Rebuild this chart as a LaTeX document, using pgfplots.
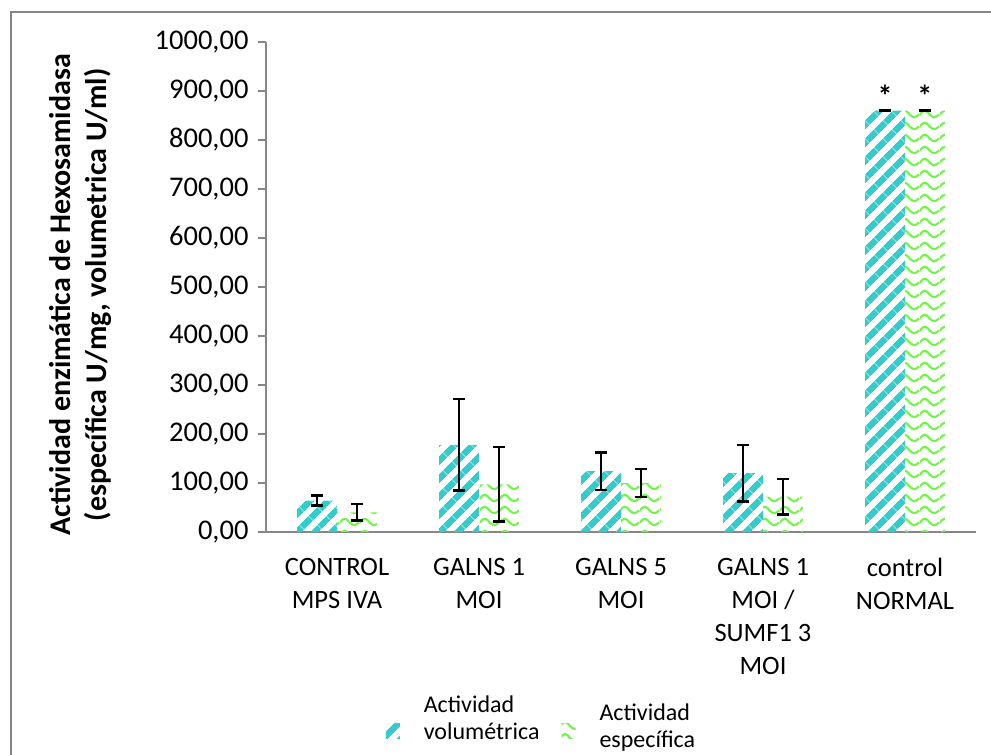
\documentclass[border=0pt]{standalone}
\usepackage{pgfplots}
\pgfplotsset{compat=1.18}
\usepackage{fontspec}
\setmainfont{Carlito}
\usetikzlibrary{patterns.meta}
\definecolor{tealc}{RGB}{51,204,204}
\definecolor{greenc}{RGB}{110,245,70}
\definecolor{axgray}{RGB}{134,134,134}

\tikzdeclarepattern{
  name=widediag,
  type=uncolored,
  bounding box={(0pt,0pt) and (12.5pt,12.5pt)},
  tile size={(12.5pt,12.5pt)},
  tile transformation={rotate=45},
  code={\fill (0pt,0pt) rectangle (12.5pt,6.5pt);}
}
\tikzdeclarepattern{
  name=waves,
  type=uncolored,
  bounding box={(0pt,0pt) and (20pt,12pt)},
  tile size={(20pt,12pt)},
  code={\draw[line width=2.2pt] (0pt,5pt) sin (5pt,9pt) cos (10pt,5pt) sin (15pt,2pt) cos (20pt,5pt);}
}

\begin{document}
\begin{tikzpicture}[x=1pt,y=1pt]
\path[use as bounding box] (-266,-223) rectangle (725,532);
\draw[axgray, line width=1.8pt] (-255,-240) -- (-255,520) -- (740,520);
\begin{axis}[
  at={(0,0)}, anchor=south west,
  scale only axis, width=710pt, height=490pt,
  xmin=-0.5, xmax=4.5, ymin=0, ymax=1000,
  ybar, bar width=0.28,
  axis x line*=bottom, axis y line*=left,
  axis line style={axgray, line width=1.5pt},
  xtick={0,1,2,3,4},
  xticklabels={{CONTROL\\MPS IVA},{GALNS 1\\MOI},{GALNS 5\\MOI},{GALNS 1\\MOI /\\SUMF1 3\\MOI},{control\\NORMAL}},
  x tick style={draw=none},
  xticklabel style={align=center, anchor=north, font=\fontsize{26.5}{33}\selectfont, yshift=-15pt},
  ytick={0,100,200,300,400,500,600,700,800,900,1000},
  yticklabels={{0,00},{100,00},{200,00},{300,00},{400,00},{500,00},{600,00},{700,00},{800,00},{900,00},{1000,00}},
  y tick style={axgray, line width=1.5pt},
  tick align=outside, major tick length=8pt,
  yticklabel style={font=\fontsize{28.5}{32}\selectfont, anchor=east, xshift=-6pt},
  ylabel={Actividad enzimática de Hexosamidasa\\(específica U/mg, volumetrica U/ml)},
  ylabel style={font=\bfseries\fontsize{30}{36}\selectfont, align=center, at={(axis description cs:-0.2606,0.484)}, anchor=center},
  legend columns=2,
  legend style={draw=none, at={(0.388,-0.388)}, anchor=center, font=\fontsize{24}{27}\selectfont, cells={align=left},
    /tikz/every even column/.append style={column sep=20pt},
    /tikz/every odd column/.append style={column sep=22pt}},
  legend image code/.code={\path[#1,draw=none] (0pt,-20pt) rectangle (14pt,-5pt);},
  error bars/y dir=both, error bars/y explicit,
  error bars/error bar style={black, line width=2.5pt},
  error bars/error mark options={black, line width=2.5pt, mark size=6pt, rotate=90},
  clip=false,
]
\addplot[draw=none, pattern=widediag, pattern color=tealc, bar shift=-0.14] coordinates {
  (0,64) +- (0,10)
  (1,178) +- (0,93)
  (2,124) +- (0,38)
  (3,120) +- (0,58)
  (4,860) +- (0,1)
};
\addlegendentry{Actividad\\volumétrica}
\addplot[draw=none, pattern=waves, pattern color=greenc, bar shift=0.14] coordinates {
  (0,40) +- (0,17)
  (1,97) +- (0,76)
  (2,100) +- (0,29)
  (3,72) +- (0,36)
  (4,860) +- (0,1)
};
\addlegendentry[yshift=-8pt]{Actividad\\específica}
\node[font=\bfseries\fontsize{30}{34}\selectfont, anchor=base] at (axis cs:3.86,868) {*};
\node[font=\bfseries\fontsize{30}{34}\selectfont, anchor=base] at (axis cs:4.14,868) {*};
\end{axis}
\end{tikzpicture}
\end{document}
